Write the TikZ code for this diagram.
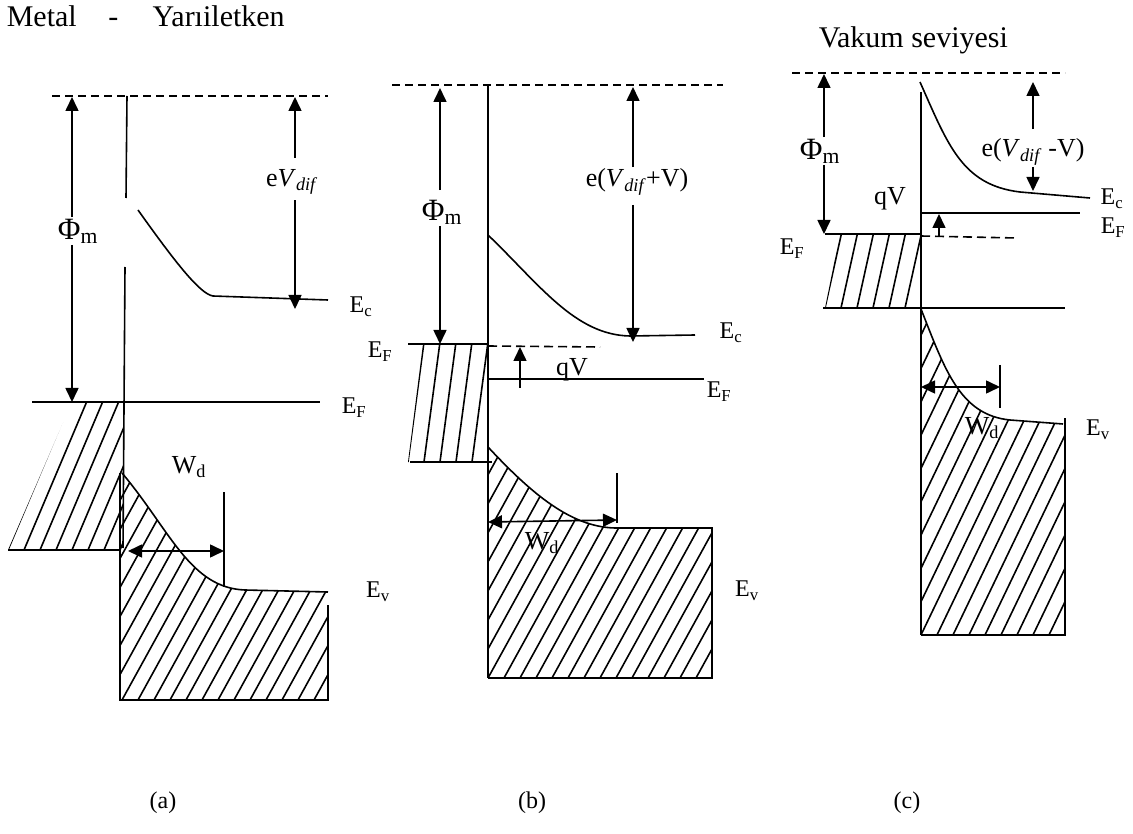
\documentclass[tikz,border=0pt]{standalone}
\usepackage{fontspec}
\setmainfont{Liberation Serif}
\usetikzlibrary{arrows.meta,positioning}

\begin{document}
\begin{tikzpicture}[x=1pt,y=-1pt,line width=1.6pt,
  lbl/.style={font=\fontsize{26}{27}\selectfont,inner sep=1pt},
  elbl/.style={font=\fontsize{24}{25}\selectfont,inner sep=1pt},
  phil/.style={font=\fontsize{31}{32}\selectfont,inner sep=1pt},
  ttl/.style={font=\fontsize{30}{31}\selectfont,inner sep=0pt,anchor=base west},
  arr/.style={-{Triangle[length=14pt,width=13pt]}},
  wid/.style={{Triangle[length=14pt,width=13pt]}-{Triangle[length=14pt,width=13pt]}},
  vac/.style={dash pattern=on 8pt off 5pt},
  qf/.style={dash pattern=on 9pt off 5pt}]
\useasboundingbox (0,0) rectangle (1133,834);

% titles
\node[ttl] (ttlA) at (6,27) {Metal\hspace{1.05em}-\hspace{1.15em}Yarıiletken};
\node[ttl] (ttlC) at (818,48) {Vakum seviyesi};
\node[elbl,anchor=base] (capA) at (163,808) {(a)};
\node[elbl,anchor=base] (capB) at (532,808) {(b)};
\node[elbl,anchor=base] (capC) at (907,808) {(c)};

% ---- (a) thermal equilibrium
\coordinate (vacAl) at (52,96); \coordinate (vacAr) at (328,96);
\draw[vac] (vacAl) -- (vacAr);
\draw (127,96) -- (126,198);
\draw (125,267) -- (123,548);
\draw (138,210) .. controls (175,262) and (200,294) .. (213,296) -- (328,300);
\draw (32,402) -- (320,402);
\begin{scope}
  \clip (8,550) -- (72,402) -- (123,402) -- (123,550) -- cycle;
  \foreach \x in {8,24,...,120} \draw (\x,550) -- ++(66,-156);
\end{scope}
\draw (8,550) -- (120,550);
\begin{scope}
  \clip (122,473) .. controls (170,530) and (190,588) .. (245,590) -- (328,592) -- (328,700) -- (120,700) -- (120,473) -- cycle;
  \foreach \x in {-6,10,...,330} \draw (\x,700) -- ++(130,-236);
\end{scope}
\draw (122,473) .. controls (170,530) and (190,588) .. (245,590) -- (328,592);
\draw (120,473) -- (120,700) -- (328,700) -- (328,605);
\node[phil] (phiA) at (78,231) {Φ\textsubscript{m}};
\coordinate (phiAt) at (72,97); \coordinate (phiAb) at (72,402);
\draw[arr] (phiA.north -| phiAt) -- (phiAt);
\draw[arr] (phiA.south -| phiAt) -- (phiAb);
\node[lbl] (vdA) at (292,182) {e\textit{V}\textsubscript{\textit{dif}}};
\coordinate (vdAt) at (295,97); \coordinate (vdAb) at (295,309);
\draw[arr] (vdA.north -| vdAt) ++(0,-10) -- (vdAt);
\draw[arr] (vdA.south -| vdAt) ++(0,4) -- (vdAb);
\node[elbl] (ecA) at (361,307) {E\textsubscript{c}};
\node[elbl] (efA) at (354,408) {E\textsubscript{F}};
\node[elbl] (evA) at (378,592) {E\textsubscript{v}};
\coordinate (wdAl) at (128,551); \coordinate (wdAr) at (224,551);
\draw (224,492) -- (224,587);
\draw[wid] (wdAl) -- (wdAr);
\node[lbl] (wdA) at (189,467) {W\textsubscript{d}};

% ---- (b) reverse bias
\coordinate (vacBl) at (392,85); \coordinate (vacBr) at (723,85);
\draw[vac] (vacBl) -- (vacBr);
\draw (488,85) -- (488,678);
\draw (488,235) .. controls (540,285) and (575,335) .. (630,336) -- (695,335);
\draw (408,344) -- (488,344);
\draw[qf] (488,346) -- (600,347);
\draw (488,379) -- (704,379);
\begin{scope}
  \clip (408,462) -- (423,344) -- (488,344) -- (488,462) -- cycle;
  \foreach \x in {408,424,...,488} \draw (\x,462) -- ++(16,-120);
\end{scope}
\draw (410,462) -- (492,462);
\begin{scope}
  \clip (488,447) .. controls (530,492) and (570,527) .. (615,528) -- (712,528) -- (712,678) -- (488,678) -- cycle;
  \foreach \x in {360,376,...,712} \draw (\x,678) -- ++(130,-236);
\end{scope}
\draw (488,447) .. controls (530,492) and (570,527) .. (615,528) -- (712,528) -- (712,678) -- (488,678);
\node[phil] (phiB) at (442,212) {Φ\textsubscript{m}};
\coordinate (phiBt) at (440,88); \coordinate (phiBb) at (440,344);
\draw[arr] (phiB.north -| phiBt) ++(0,-8) -- (phiBt);
\draw[arr] (phiB.south -| phiBt) -- (phiBb);
\node[lbl] (vdB) at (637,182) {e(\textit{V}\textsubscript{\textit{dif}}+V)};
\coordinate (vdBt) at (633,87); \coordinate (vdBb) at (633,342);
\draw[arr] (vdB.north -| vdBt) -- (vdBt);
\draw[arr] (vdB.south -| vdBt) ++(0,8) -- (vdBb);
\coordinate (qvBb) at (520,388); \coordinate (qvBt) at (520,347);
\draw[arr] (qvBb) -- (qvBt);
\node[lbl] (qvB) at (572,370) {qV};
\node[elbl] (ecB) at (731,333) {E\textsubscript{c}};
\node[elbl] (efBm) at (380,352) {E\textsubscript{F}};
\node[elbl] (efBs) at (719,392) {E\textsubscript{F}};
\node[elbl] (evB) at (747,591) {E\textsubscript{v}};
\coordinate (wdBl) at (488,522); \coordinate (wdBr) at (617,520);
\draw (617,473) -- (617,523);
\draw[wid] (wdBl) -- (wdBr);
\node[lbl] (wdB) at (542,543) {W\textsubscript{d}};

% ---- (c) forward bias
\coordinate (vacCl) at (792,73); \coordinate (vacCr) at (1065,73);
\draw[vac] (vacCl) -- (vacCr);
\draw (921,92) -- (921,635);
\draw (920,82) .. controls (948,145) and (962,185) .. (1020,192) -- (1090,198);
\draw (825,234) -- (921,234);
\draw[qf] (921,236) -- (1017,238);
\draw (921,213) -- (1080,213);
\begin{scope}
  \clip (825,308) -- (840,234) -- (921,234) -- (921,308) -- cycle;
  \foreach \x in {825,841,...,921} \draw (\x,308) -- ++(17,-77);
\end{scope}
\draw (823,308) -- (1065,308);
\begin{scope}
  \clip (921,309) .. controls (945,370) and (960,415) .. (1010,420) -- (1063,424) -- (1065,424) -- (1065,635) -- (921,635) -- cycle;
  \foreach \x in {761,777,...,1049} \draw (\x,635) -- ++(170,-354);
\end{scope}
\draw (921,309) .. controls (945,370) and (960,415) .. (1010,420) -- (1063,424);
\draw (1065,418) -- (1065,635) -- (921,635);
\node[phil] (phiC) at (820,151) {Φ\textsubscript{m}};
\coordinate (phiCt) at (824,74); \coordinate (phiCb) at (824,234);
\draw[arr] (phiC.north -| phiCt) -- (phiCt);
\draw[arr] (phiC.south -| phiCt) -- (phiCb);
\node[lbl] (vdC) at (1033,152) {e(\textit{V}\textsubscript{\textit{dif}} -V)};
\coordinate (vdCt) at (1033,82); \coordinate (vdCb) at (1033,191);
\draw[arr] (vdC.north -| vdCt) ++(0,-8) -- (vdCt);
\draw[arr] (vdC.south -| vdCt) -- (vdCb);
\coordinate (qvCb) at (939,236); \coordinate (qvCt) at (939,214);
\draw[arr] (qvCb) -- (qvCt);
\node[lbl] (qvC) at (890,199) {qV};
\node[elbl] (ecC) at (1112,199) {E\textsubscript{c}};
\node[elbl] (efCs) at (1113,228) {E\textsubscript{F}};
\node[elbl] (efCm) at (792,249) {E\textsubscript{F}};
\node[elbl] (evC) at (1098,430) {E\textsubscript{v}};
\coordinate (wdCl) at (921,387); \coordinate (wdCr) at (1000,387);
\draw (1000,365) -- (1000,408);
\draw[wid] (wdCl) -- (wdCr);
\node[lbl] (wdC) at (982,428) {W\textsubscript{d}};
\end{tikzpicture}
\end{document}
